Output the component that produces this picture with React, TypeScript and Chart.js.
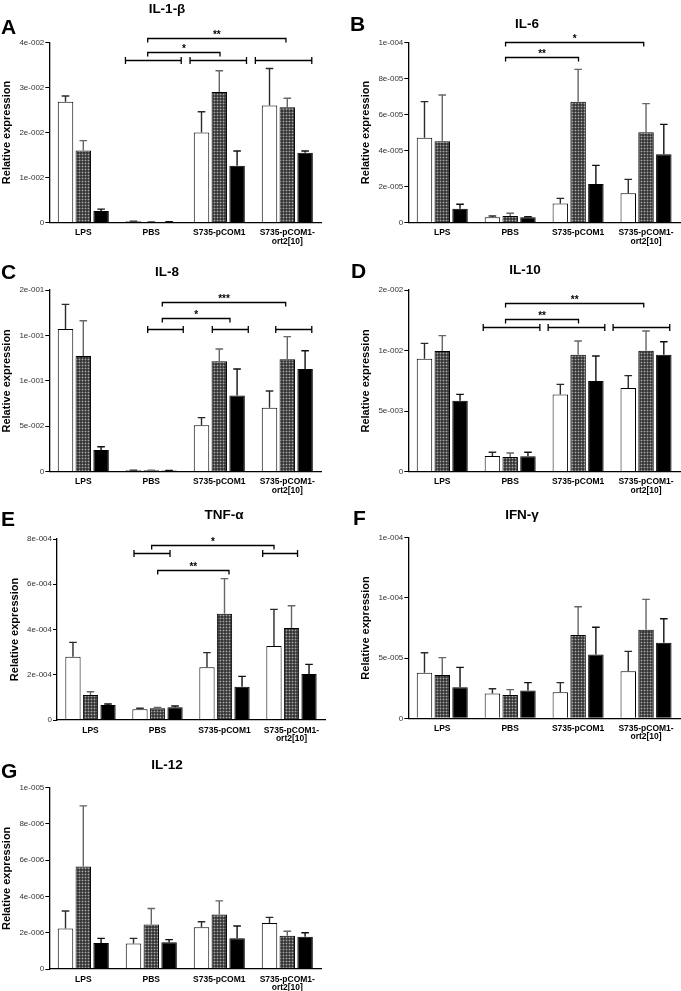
import React, { useEffect, useRef } from "react";
import { Chart, registerables } from "chart.js";

Chart.register(...registerables);

const FONT = "'Liberation Sans', Arial, Helvetica, sans-serif";

// ---------- data ----------
const CATEGORIES: (string | string[])[] = ["LPS", "PBS", "S735-pCOM1", ["S735-pCOM1-", "ort2[10]"]];

// A: IL-1-β
const IL1B_WHITE = [2.68e-2, 0.03e-2, 2.0e-2, 2.6e-2];
const IL1B_GRAY = [1.6e-2, 0.015e-2, 2.9e-2, 2.56e-2];
const IL1B_BLACK = [0.26e-2, 0.015e-2, 1.26e-2, 1.55e-2];
const IL1B_WHITE_ERR = [0.13e-2, 0.005e-2, 0.46e-2, 0.82e-2];
const IL1B_GRAY_ERR = [0.22e-2, 0.005e-2, 0.47e-2, 0.2e-2];
const IL1B_BLACK_ERR = [0.04e-2, 0.005e-2, 0.33e-2, 0.04e-2];
const IL1B_TICKS = [0, 1e-2, 2e-2, 3e-2, 4e-2];
const IL1B_TICK_LABELS = ["0", "1e-002", "2e-002", "3e-002", "4e-002"];
const IL1B_BRACKETS = [
  { kind: "sig", x1: 0.947, x2: 2.98, y: 4.1e-2, text: "**" },
  { kind: "sig", x1: 0.947, x2: 2.01, y: 3.79e-2, text: "*" },
  { kind: "group", x1: 0.62, x2: 1.44, y: 3.6e-2, text: "" },
  { kind: "group", x1: 1.57, x2: 2.4, y: 3.6e-2, text: "" },
  { kind: "group", x1: 2.53, x2: 3.36, y: 3.6e-2, text: "" },
];

// B: IL-6
const IL6_WHITE = [4.71e-5, 0.3e-5, 1.07e-5, 1.63e-5];
const IL6_GRAY = [4.51e-5, 0.37e-5, 6.71e-5, 5.01e-5];
const IL6_BLACK = [0.78e-5, 0.3e-5, 2.14e-5, 3.79e-5];
const IL6_WHITE_ERR = [2.0e-5, 0.07e-5, 0.28e-5, 0.77e-5];
const IL6_GRAY_ERR = [2.57e-5, 0.15e-5, 1.79e-5, 1.59e-5];
const IL6_BLACK_ERR = [0.24e-5, 0.03e-5, 1.04e-5, 1.66e-5];
const IL6_TICKS = [0, 2e-5, 4e-5, 6e-5, 8e-5, 1e-4];
const IL6_TICK_LABELS = ["0", "2e-005", "4e-005", "6e-005", "8e-005", "1e-004"];
const IL6_BRACKETS = [
  { kind: "sig", x1: 0.932, x2: 2.966, y: 10.04e-5, text: "*" },
  { kind: "sig", x1: 0.932, x2: 2.006, y: 9.2e-5, text: "**" },
];

// C: IL-8
const IL8_WHITE = [15.7e-2, 0.15e-2, 5.1e-2, 7.05e-2];
const IL8_GRAY = [12.73e-2, 0.15e-2, 12.15e-2, 12.37e-2];
const IL8_BLACK = [2.39e-2, 0.12e-2, 8.4e-2, 11.3e-2];
const IL8_WHITE_ERR = [2.72e-2, 0.02e-2, 0.85e-2, 1.83e-2];
const IL8_GRAY_ERR = [3.89e-2, 0.02e-2, 1.36e-2, 2.5e-2];
const IL8_BLACK_ERR = [0.36e-2, 0.02e-2, 2.9e-2, 2.02e-2];
const IL8_TICKS = [0, 0.05, 0.1, 0.15, 0.2];
const IL8_TICK_LABELS = ["0", "5e-002", "1e-001", "1e-001", "2e-001"];
const IL8_BRACKETS = [
  { kind: "sig", x1: 1.162, x2: 2.976, y: 18.72e-2, text: "***" },
  { kind: "sig", x1: 1.162, x2: 2.157, y: 16.95e-2, text: "*" },
  { kind: "group", x1: 0.947, x2: 1.47, y: 15.7e-2, text: "" },
  { kind: "group", x1: 1.897, x2: 2.426, y: 15.7e-2, text: "" },
  { kind: "group", x1: 2.83, x2: 3.36, y: 15.7e-2, text: "" },
];

// D: IL-10
const IL10_WHITE = [9.33e-3, 1.29e-3, 6.38e-3, 6.91e-3];
const IL10_GRAY = [9.96e-3, 1.21e-3, 9.66e-3, 9.99e-3];
const IL10_BLACK = [5.86e-3, 1.27e-3, 7.49e-3, 9.66e-3];
const IL10_WHITE_ERR = [1.26e-3, 0.31e-3, 0.83e-3, 1.02e-3];
const IL10_GRAY_ERR = [1.27e-3, 0.33e-3, 1.13e-3, 1.62e-3];
const IL10_BLACK_ERR = [0.52e-3, 0.33e-3, 2.06e-3, 1.07e-3];
const IL10_TICKS = [0, 5e-3, 1e-2, 1.5e-2];
const IL10_TICK_LABELS = ["0", "5e-003", "1e-002", "2e-002"];
const IL10_BRACKETS = [
  { kind: "sig", x1: 0.932, x2: 2.966, y: 13.9e-3, text: "**" },
  { kind: "sig", x1: 0.932, x2: 2.006, y: 12.6e-3, text: "**" },
  { kind: "group", x1: 0.603, x2: 1.437, y: 11.92e-3, text: "" },
  { kind: "group", x1: 1.559, x2: 2.393, y: 11.92e-3, text: "" },
  { kind: "group", x1: 2.515, x2: 3.349, y: 11.92e-3, text: "" },
];

// E: TNF-α
const TNF_WHITE = [2.8e-4, 0.47e-4, 2.33e-4, 3.27e-4];
const TNF_GRAY = [1.1e-4, 0.52e-4, 4.7e-4, 4.07e-4];
const TNF_BLACK = [0.66e-4, 0.56e-4, 1.47e-4, 2.03e-4];
const TNF_WHITE_ERR = [0.63e-4, 0.05e-4, 0.65e-4, 1.62e-4];
const TNF_GRAY_ERR = [0.15e-4, 0.03e-4, 1.55e-4, 0.98e-4];
const TNF_BLACK_ERR = [0.05e-4, 0.06e-4, 0.46e-4, 0.43e-4];
const TNF_TICKS = [0, 2e-4, 4e-4, 6e-4, 8e-4];
const TNF_TICK_LABELS = ["0", "2e-004", "4e-004", "6e-004", "8e-004"];
const TNF_BRACKETS = [
  { kind: "sig", x1: 0.913, x2: 2.739, y: 7.73e-4, text: "*" },
  { kind: "sig", x1: 1.003, x2: 2.067, y: 6.61e-4, text: "**" },
  { kind: "group", x1: 0.649, x2: 1.187, y: 7.37e-4, text: "" },
  { kind: "group", x1: 2.57, x2: 3.09, y: 7.37e-4, text: "" },
];

// F: IFN-γ
const IFN_WHITE = [3.79e-5, 2.05e-5, 2.16e-5, 3.9e-5];
const IFN_GRAY = [3.6e-5, 1.94e-5, 6.92e-5, 7.36e-5];
const IFN_BLACK = [2.57e-5, 2.3e-5, 5.29e-5, 6.28e-5];
const IFN_WHITE_ERR = [1.66e-5, 0.41e-5, 0.8e-5, 1.66e-5];
const IFN_GRAY_ERR = [1.44e-5, 0.44e-5, 2.35e-5, 2.52e-5];
const IFN_BLACK_ERR = [1.66e-5, 0.66e-5, 2.27e-5, 1.99e-5];
const IFN_TICKS = [0, 5e-5, 1e-4, 1.5e-4];
const IFN_TICK_LABELS = ["0", "5e-005", "1e-004", "1e-004"];
const IFN_BRACKETS: any[] = [];

// G: IL-12
const IL12_WHITE = [2.24e-6, 1.4e-6, 2.3e-6, 2.54e-6];
const IL12_GRAY = [5.66e-6, 2.46e-6, 3.01e-6, 1.84e-6];
const IL12_BLACK = [1.43e-6, 1.47e-6, 1.69e-6, 1.78e-6];
const IL12_WHITE_ERR = [0.96e-6, 0.29e-6, 0.31e-6, 0.31e-6];
const IL12_GRAY_ERR = [3.34e-6, 0.88e-6, 0.75e-6, 0.24e-6];
const IL12_BLACK_ERR = [0.26e-6, 0.15e-6, 0.68e-6, 0.22e-6];
const IL12_TICKS = [0, 2e-6, 4e-6, 6e-6, 8e-6, 1e-5];
const IL12_TICK_LABELS = ["0", "2e-006", "4e-006", "6e-006", "8e-006", "1e-005"];
const IL12_BRACKETS: any[] = [];

// ---------- layout (positions / sizes) ----------
type PanelCfg = {
  letter: string;
  title: string;
  values: number[][];
  errors: number[][];
  ticks: number[];
  tickLabels: string[];
  brackets: any[];
  box: { x: number; y: number; w: number; h: number };
  area: { l: number; r: number; t: number; b: number };
  titlePos: [number, number];
  letterPos: [number, number];
};

const PANELS: PanelCfg[] = [
  {
    letter: "A", title: "IL-1-β",
    values: [IL1B_WHITE, IL1B_GRAY, IL1B_BLACK], errors: [IL1B_WHITE_ERR, IL1B_GRAY_ERR, IL1B_BLACK_ERR],
    ticks: IL1B_TICKS, tickLabels: IL1B_TICK_LABELS, brackets: IL1B_BRACKETS,
    box: { x: 0, y: 0, w: 340, h: 249 }, area: { l: 49.3, r: 321.3, t: 42.3, b: 222.7 },
    titlePos: [167, 9], letterPos: [1, 25.5],
  },
  {
    letter: "B", title: "IL-6",
    values: [IL6_WHITE, IL6_GRAY, IL6_BLACK], errors: [IL6_WHITE_ERR, IL6_GRAY_ERR, IL6_BLACK_ERR],
    ticks: IL6_TICKS, tickLabels: IL6_TICK_LABELS, brackets: IL6_BRACKETS,
    box: { x: 340, y: 0, w: 341, h: 249 }, area: { l: 68.3, r: 340, t: 42.3, b: 222.7 },
    titlePos: [527, 23.5], letterPos: [350, 23],
  },
  {
    letter: "C", title: "IL-8",
    values: [IL8_WHITE, IL8_GRAY, IL8_BLACK], errors: [IL8_WHITE_ERR, IL8_GRAY_ERR, IL8_BLACK_ERR],
    ticks: IL8_TICKS, tickLabels: IL8_TICK_LABELS, brackets: IL8_BRACKETS,
    box: { x: 0, y: 250, w: 340, h: 249 }, area: { l: 49.3, r: 321.3, t: 40, b: 221.7 },
    titlePos: [167, 272], letterPos: [1, 270.5],
  },
  {
    letter: "D", title: "IL-10",
    values: [IL10_WHITE, IL10_GRAY, IL10_BLACK], errors: [IL10_WHITE_ERR, IL10_GRAY_ERR, IL10_BLACK_ERR],
    ticks: IL10_TICKS, tickLabels: IL10_TICK_LABELS, brackets: IL10_BRACKETS,
    box: { x: 340, y: 250, w: 341, h: 249 }, area: { l: 68.3, r: 340, t: 40, b: 221.7 },
    titlePos: [525, 270], letterPos: [351, 270],
  },
  {
    letter: "E", title: "TNF-α",
    values: [TNF_WHITE, TNF_GRAY, TNF_BLACK], errors: [TNF_WHITE_ERR, TNF_GRAY_ERR, TNF_BLACK_ERR],
    ticks: TNF_TICKS, tickLabels: TNF_TICK_LABELS, brackets: TNF_BRACKETS,
    box: { x: 0, y: 500, w: 340, h: 250 }, area: { l: 57, r: 325, t: 39, b: 220 },
    titlePos: [224, 515], letterPos: [1, 517.5],
  },
  {
    letter: "F", title: "IFN-γ",
    values: [IFN_WHITE, IFN_GRAY, IFN_BLACK], errors: [IFN_WHITE_ERR, IFN_GRAY_ERR, IFN_BLACK_ERR],
    ticks: IFN_TICKS, tickLabels: IFN_TICK_LABELS, brackets: IFN_BRACKETS,
    box: { x: 340, y: 500, w: 341, h: 250 }, area: { l: 68.3, r: 340, t: 37.7, b: 218.3 },
    titlePos: [522, 515], letterPos: [353, 517],
  },
  {
    letter: "G", title: "IL-12",
    values: [IL12_WHITE, IL12_GRAY, IL12_BLACK], errors: [IL12_WHITE_ERR, IL12_GRAY_ERR, IL12_BLACK_ERR],
    ticks: IL12_TICKS, tickLabels: IL12_TICK_LABELS, brackets: IL12_BRACKETS,
    box: { x: 0, y: 750, w: 340, h: 241 }, area: { l: 49.3, r: 321.3, t: 37.7, b: 219 },
    titlePos: [167, 765], letterPos: [1, 770],
  },
];

const ERR_COLORS = ["#2a2a2a", "#666666", "#111111"];

function makePattern(): CanvasPattern | string {
  const p = document.createElement("canvas");
  p.width = 3;
  p.height = 3;
  const g = p.getContext("2d");
  if (!g) return "#555";
  g.fillStyle = "#383838";
  g.fillRect(0, 0, 3, 3);
  g.fillStyle = "#5c5c5c";
  g.fillRect(0, 1, 1, 1);
  g.fillRect(1, 0, 1, 1);
  g.fillRect(2, 1, 1, 1);
  g.fillRect(1, 2, 1, 1);
  g.fillStyle = "#a8a8a8";
  g.fillRect(1, 1, 1, 1);
  return g.createPattern(p, "repeat") || "#555";
}

function Panel({ p }: { p: PanelCfg }) {
  const ref = useRef<HTMLCanvasElement>(null);
  useEffect(() => {
    const canvas = ref.current;
    if (!canvas) return;
    const pattern = makePattern();
    const Wy = 48.5;
    const { box, area } = p;
    const Hx = box.h - area.b;

    const overlay = {
      id: "overlay",
      afterDatasetsDraw(chart: any) {
        const c = chart.ctx as CanvasRenderingContext2D;
        const xs = chart.scales.x;
        const ys = chart.scales.y;
        c.save();
        // error bars (upper)
        p.values.forEach((vals, di) => {
          const meta = chart.getDatasetMeta(di);
          meta.data.forEach((el: any, j: number) => {
            const top = ys.getPixelForValue(vals[j] + p.errors[di][j]);
            c.strokeStyle = ERR_COLORS[di];
            c.lineWidth = 1.4;
            c.beginPath();
            c.moveTo(el.x, el.y);
            c.lineTo(el.x, top);
            c.moveTo(el.x - 3.8, top);
            c.lineTo(el.x + 3.8, top);
            c.stroke();
          });
        });
        // brackets
        c.strokeStyle = "#000";
        c.fillStyle = "#000";
        c.lineWidth = 1.3;
        for (const b of p.brackets) {
          const x1 = xs.getPixelForValue(b.x1);
          const x2 = xs.getPixelForValue(b.x2);
          const yy = Math.round(ys.getPixelForValue(b.y)) + 0.5;
          c.beginPath();
          if (b.kind === "sig") {
            c.moveTo(x1, yy + 4);
            c.lineTo(x1, yy);
            c.lineTo(x2, yy);
            c.lineTo(x2, yy + 4);
          } else {
            c.moveTo(x1, yy - 3.5);
            c.lineTo(x1, yy + 3.5);
            c.moveTo(x1, yy);
            c.lineTo(x2, yy);
            c.moveTo(x2, yy - 3.5);
            c.lineTo(x2, yy + 3.5);
          }
          c.stroke();
          if (b.text) {
            c.font = `bold 10px ${FONT}`;
            c.textAlign = "center";
            c.textBaseline = "alphabetic";
            c.fillText(b.text, (x1 + x2) / 2, yy - 0.5);
          }
        }
        c.restore();
      },
    };

    const fills = ["#ffffff", pattern, "#000000"];
    const chart = new Chart(canvas, {
      type: "bar",
      data: {
        labels: CATEGORIES as any,
        datasets: p.values.map((vals, i) => ({
          label: ["white", "hatched", "black"][i],
          data: vals,
          backgroundColor: fills[i] as any,
          borderColor: "#000",
          borderWidth: 1,
          categoryPercentage: 0.785,
          barPercentage: 0.87,
        })),
      },
      options: {
        responsive: false,
        animation: false,
        devicePixelRatio: 1,
        events: [],
        layout: {
          padding: {
            left: area.l - Wy,
            right: box.w - area.r,
            top: area.t,
            bottom: 0,
          },
        },
        plugins: {
          legend: { display: false },
          tooltip: { enabled: false },
          title: { display: false },
        },
        scales: {
          x: {
            afterFit: (s: any) => {
              s.height = Hx;
            },
            ticks: {
              font: { size: 8.5, weight: "bold", family: FONT, lineHeight: 1.0 } as any,
              color: "#000",
              padding: 6,
              maxRotation: 0,
              minRotation: 0,
              autoSkip: false,
            },
            grid: { display: false, drawTicks: false },
            border: { display: true, color: "#000", width: 1.3, z: 1 } as any,
          },
          y: {
            min: 0,
            max: p.ticks[p.ticks.length - 1],
            afterBuildTicks: (s: any) => {
              s.ticks = p.ticks.map((v) => ({ value: v }));
            },
            afterFit: (s: any) => {
              s.width = Wy;
            },
            ticks: {
              callback: (_v: any, i: number) => p.tickLabels[i] ?? "",
              font: { size: 8, family: FONT },
              color: "#333",
              padding: 1,
              autoSkip: false,
            },
            grid: { drawOnChartArea: false, drawTicks: true, tickLength: 4, color: "#000", lineWidth: 1 },
            border: { display: true, color: "#000", width: 1.3, z: 1 } as any,
            title: {
              display: true,
              text: "Relative expression",
              color: "#000",
              font: { size: 11, weight: "bold", family: FONT, lineHeight: 1.2 } as any,
              padding: 0,
            },
          },
        },
      } as any,
      plugins: [overlay],
    });
    return () => chart.destroy();
  }, [p]);

  return (
    <canvas
      ref={ref}
      width={p.box.w}
      height={p.box.h}
      style={{ position: "absolute", left: p.box.x, top: p.box.y, width: p.box.w, height: p.box.h, display: "block" }}
    />
  );
}

export default function App() {
  return (
    <div
      style={{
        position: "absolute",
        left: 0,
        top: 0,
        width: 681,
        height: 991,
        background: "#fff",
        overflow: "hidden",
        fontFamily: FONT,
        color: "#000",
      }}
    >
      {PANELS.map((p) => (
        <React.Fragment key={p.letter}>
          <Panel p={p} />
          <div
            style={{
              position: "absolute",
              left: p.titlePos[0],
              top: p.titlePos[1],
              transform: "translate(-50%, -50%)",
              fontSize: 13.5,
              fontWeight: "bold",
              lineHeight: 1,
              whiteSpace: "nowrap",
            }}
          >
            {p.title}
          </div>
          <div
            style={{
              position: "absolute",
              left: p.letterPos[0],
              top: p.letterPos[1],
              transform: "translateY(-50%)",
              fontSize: 21,
              fontWeight: "bold",
              lineHeight: 1,
            }}
          >
            {p.letter}
          </div>
        </React.Fragment>
      ))}
    </div>
  );
}
